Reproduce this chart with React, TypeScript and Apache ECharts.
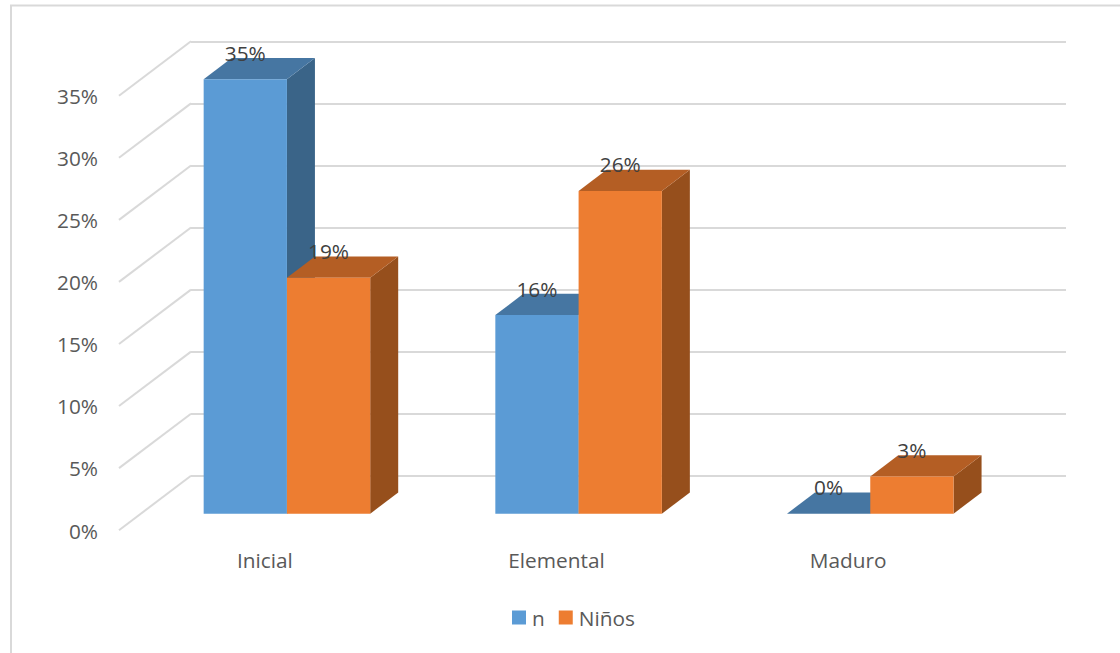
import React, { useEffect, useRef } from "react";
import * as echarts from "echarts";

const categories = ["Inicial", "Elemental", "Maduro"];
const seriesNames = ["n", "Niños"];
const valuesN = [35, 16, 0];
const valuesNinos = [19, 26, 3];
const percentTicks = [0, 5, 10, 15, 20, 25, 30, 35];

const FONT = "'Open Sans', 'Noto Sans', sans-serif";
const FONT_SIZE = 20.8;
const AXIS_TEXT = "#595959";
const LABEL_TEXT = "#404040";
const GRID_LINE = "#D9D9D9";

const PLANE_WIDTH = 875;
const PLOT_HEIGHT = 434.5;
const DEPTH_X = 28;
const DEPTH_Y = 21.3;
const WALL_DX = 72;
const WALL_DY = 54.4;

const blue = { front: "#5B9BD5", top: "#4676A2", side: "#3A6488" };
const orange = { front: "#ED7D31", top: "#B45E24", side: "#964F1C" };

// Draws one box: front face, top face, right side, plus its value above the top.
const boxRenderer = (slot: number, shade: typeof blue) => (_params: any, api: any) => {
  const category = api.value(0);
  const value = api.value(1);
  const [cx, topY] = api.coord([category, value]);
  const [, baseY] = api.coord([category, 0]);
  const barWidth = api.size([1, 0])[0] * 0.2855;
  const x0 = cx + (slot === 0 ? -barWidth : 0);
  const x1 = x0 + barWidth;
  const children: any[] = [
    {
      type: "polygon",
      shape: { points: [[x1, baseY], [x1 + DEPTH_X, baseY - DEPTH_Y], [x1 + DEPTH_X, topY - DEPTH_Y], [x1, topY]] },
      style: { fill: shade.side },
    },
    {
      type: "polygon",
      shape: { points: [[x0, topY], [x0 + DEPTH_X, topY - DEPTH_Y], [x1 + DEPTH_X, topY - DEPTH_Y], [x1, topY]] },
      style: { fill: shade.top },
    },
    {
      type: "rect",
      shape: { x: x0, y: topY, width: barWidth, height: baseY - topY },
      style: { fill: shade.front },
    },
    {
      type: "text",
      x: (x0 + x1) / 2,
      y: topY - 26.5,
      style: {
        text: `${value}%`,
        fill: LABEL_TEXT,
        font: `${FONT_SIZE}px ${FONT}`,
        align: "center",
        verticalAlign: "middle",
      },
    },
  ];
  return { type: "group", children };
};

// Floor-to-wall diagonal that starts at each wall gridline.
const wallDiagonal = (params: any, api: any) => {
  const y = api.coord([0, api.value(0)])[1];
  const x = params.coordSys.x;
  return {
    type: "line",
    shape: { x1: x, y1: y, x2: x - WALL_DX, y2: y + WALL_DY },
    style: { stroke: GRID_LINE, lineWidth: 2 },
  };
};

export default function App() {
  const ref = useRef<HTMLDivElement>(null);

  useEffect(() => {
    document.body.style.margin = "0";
    const chart = echarts.init(ref.current!, undefined, { renderer: "svg" });
    const hiddenValueAxis = (gridIndex: number) => ({
      type: "value" as const,
      gridIndex,
      min: 0,
      max: 35,
      interval: 5,
      axisLine: { show: false },
      axisTick: { show: false },
      axisLabel: { show: false },
      splitLine: { show: false },
    });
    const hiddenCategoryAxis = (gridIndex: number) => ({
      type: "category" as const,
      gridIndex,
      data: categories,
      axisLine: { show: false },
      axisTick: { show: false },
      axisLabel: { show: false },
    });

    chart.setOption({
      animation: false,
      backgroundColor: "#ffffff",
      textStyle: { fontFamily: FONT },
      graphic: [
        {
          type: "polyline",
          shape: { points: [[11, 653], [11, 5.5], [1120, 5.5]] },
          style: { stroke: GRID_LINE, lineWidth: 2, fill: "none" },
          silent: true,
        },
      ],
      grid: [
        // Front plane: carries the tick labels
        { left: 119, top: 96, width: PLANE_WIDTH, height: PLOT_HEIGHT },
        // Back wall: carries the gridlines
        { left: 191, top: 41.3, width: PLANE_WIDTH, height: PLOT_HEIGHT },
        // Plane the boxes stand on
        { left: 141.1, top: 79.2, width: PLANE_WIDTH, height: PLOT_HEIGHT },
      ],
      xAxis: [
        {
          type: "category",
          gridIndex: 0,
          data: categories,
          axisLine: { show: false },
          axisTick: { show: false },
          axisLabel: { color: AXIS_TEXT, fontSize: FONT_SIZE, fontFamily: FONT, margin: 19 },
        },
        hiddenCategoryAxis(1),
        hiddenCategoryAxis(2),
      ],
      yAxis: [
        {
          type: "value",
          gridIndex: 0,
          min: 0,
          max: 35,
          interval: 5,
          axisLine: { show: false },
          axisTick: { show: false },
          splitLine: { show: false },
          axisLabel: { color: AXIS_TEXT, fontSize: FONT_SIZE, fontFamily: FONT, margin: 21, formatter: "{value}%" },
        },
        { ...hiddenValueAxis(1), splitLine: { show: true, lineStyle: { color: GRID_LINE, width: 2 } } },
        hiddenValueAxis(2),
      ],
      legend: {
        data: seriesNames,
        left: 507,
        top: 602,
        itemWidth: 14,
        itemHeight: 14,
        itemGap: 14,
        icon: "rect",
        selectedMode: false,
        textStyle: { color: AXIS_TEXT, fontSize: FONT_SIZE, fontFamily: FONT, padding: [0, 0, 0, 1] },
      },
      series: [
        {
          type: "custom",
          name: "wall",
          xAxisIndex: 1,
          yAxisIndex: 1,
          silent: true,
          renderItem: wallDiagonal,
          encode: { y: 0 },
          data: percentTicks.map((t) => [t]),
          z: 1,
        },
        {
          type: "custom",
          name: seriesNames[0],
          xAxisIndex: 2,
          yAxisIndex: 2,
          itemStyle: { color: blue.front },
          renderItem: boxRenderer(0, blue),
          encode: { x: 0, y: 1 },
          data: valuesN.map((v, i) => [i, v]),
          z: 3,
        },
        {
          type: "custom",
          name: seriesNames[1],
          xAxisIndex: 2,
          yAxisIndex: 2,
          itemStyle: { color: orange.front },
          renderItem: boxRenderer(1, orange),
          encode: { x: 0, y: 1 },
          data: valuesNinos.map((v, i) => [i, v]),
          z: 4,
        },
      ],
    });
    return () => chart.dispose();
  }, []);

  return <div ref={ref} style={{ width: 1120, height: 653 }} />;
}
